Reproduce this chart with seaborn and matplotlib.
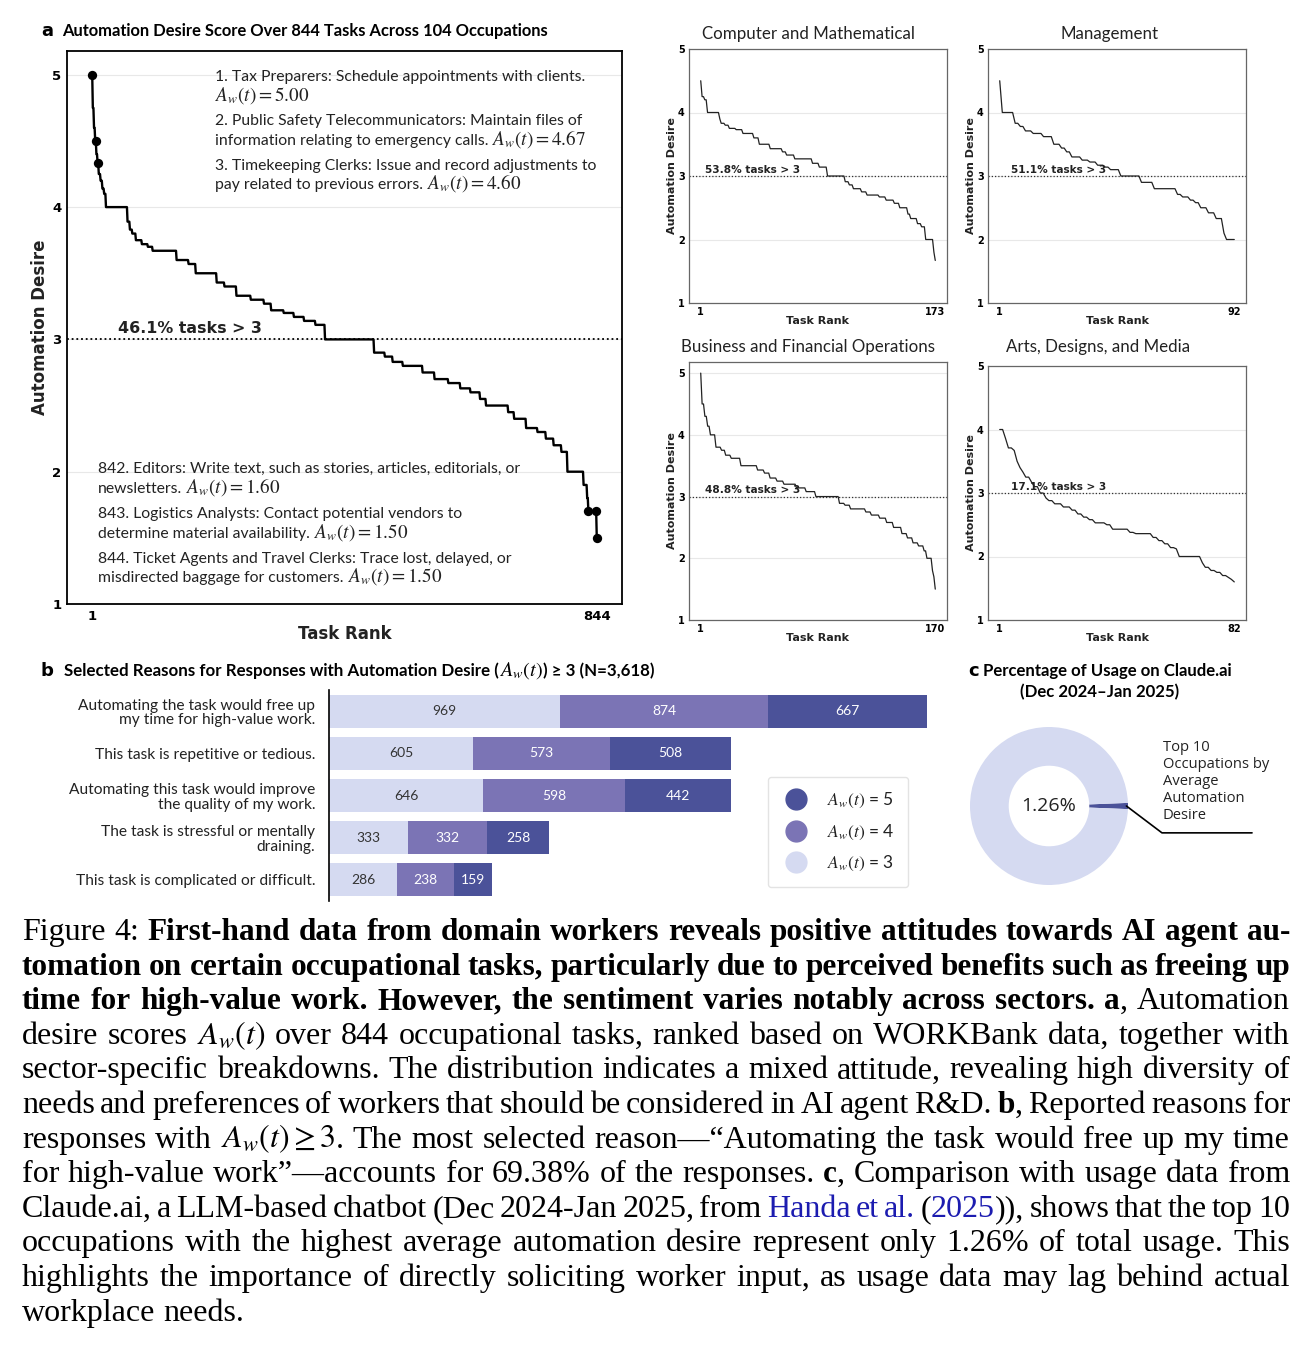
import numpy as np
import pandas as pd
import matplotlib
matplotlib.use("Agg")
import matplotlib.pyplot as plt
import matplotlib.transforms as mtrans
from matplotlib.lines import Line2D
import seaborn as sns

# ---------------- data ----------------
# sorted automation-desire curves, stored as (level, run length)
MAIN_LEVELS = [5.00, 4.75, 4.60, 4.50, 4.40, 4.33, 4.25, 4.20, 4.14, 4.10, 4.00, 3.89, 3.83, 3.80,
               3.75, 3.72, 3.70, 3.67, 3.60, 3.57, 3.50, 3.43, 3.40, 3.33, 3.30, 3.27, 3.22, 3.20,
               3.17, 3.14, 3.11, 3.00, 2.90, 2.87, 2.83, 2.80, 2.75, 2.70, 2.67, 2.63, 2.60, 2.55,
               2.50, 2.45, 2.40, 2.33, 2.30, 2.25, 2.20, 2.15, 2.00, 1.90, 1.80, 1.70, 1.50]
MAIN_COUNTS = [1, 2, 2, 2, 2, 2, 3, 3, 3, 3, 36, 4, 4, 6,
               10, 10, 8, 40, 20, 12, 35, 13, 20, 24, 22, 12, 21, 17,
               17, 19, 16, 82, 18, 13, 17, 33, 20, 23, 20, 17, 16, 10,
               37, 10, 20, 19, 14, 13, 13, 10, 27, 6, 2, 14, 1]
HIGHLIGHT_RANKS = [1, 7, 11, 830, 843, 844]

COMP_LEVELS = [4.50, 4.25, 4.20, 4.00, 3.90, 3.83, 3.80, 3.75, 3.73, 3.67, 3.60, 3.50, 3.43, 3.38,
               3.33, 3.27, 3.20, 3.14, 3.00, 2.91, 2.86, 2.80, 2.75, 2.70, 2.67, 2.62, 2.57, 2.50,
               2.40, 2.33, 2.25, 2.20, 2.00, 1.80, 1.67]
COMP_COUNTS = [1, 2, 2, 9, 1, 3, 3, 5, 5, 8, 4, 8, 9, 3, 6, 13, 5, 6, 13, 3, 3, 6, 4, 9, 5, 6, 4, 6,
               2, 5, 3, 3, 6, 1, 1]

MGMT_LEVELS = [4.50, 4.00, 3.83, 3.78, 3.71, 3.67, 3.62, 3.50, 3.44, 3.38, 3.30, 3.25, 3.22, 3.17,
               3.14, 3.10, 3.00, 2.90, 2.80, 2.71, 2.67, 2.62, 2.58, 2.50, 2.42, 2.33, 2.10, 2.00]
MGMT_COUNTS = [1, 5, 2, 2, 3, 4, 4, 3, 2, 2, 4, 3, 3, 3, 2, 4, 8, 5, 9, 2, 3, 2, 2, 3, 3, 3, 1, 4]

BUS_LEVELS = [5.00, 4.50, 4.30, 4.14, 4.00, 3.80, 3.75, 3.67, 3.62, 3.50, 3.43, 3.38, 3.30, 3.25,
              3.20, 3.14, 3.08, 3.00, 2.89, 2.86, 2.80, 2.75, 2.70, 2.65, 2.58, 2.50, 2.40, 2.33,
              2.25, 2.20, 2.12, 2.00, 1.80, 1.70, 1.50]
BUS_COUNTS = [1, 2, 2, 2, 4, 4, 3, 4, 7, 12, 5, 4, 5, 5, 9, 7, 7, 17, 4, 4, 11, 4, 6, 5, 5, 6, 4, 4,
              4, 4, 2, 4, 1, 1, 1]

ARTS_LEVELS = [4.00, 3.86, 3.71, 3.67, 3.50, 3.40, 3.33, 3.25, 3.17, 3.10, 3.00, 2.92, 2.88, 2.83,
               2.78, 2.73, 2.67, 2.62, 2.58, 2.53, 2.50, 2.43, 2.38, 2.36, 2.30, 2.25, 2.20, 2.14,
               2.12, 2.00, 1.90, 1.83, 1.78, 1.75, 1.70, 1.67, 1.64, 1.60]
ARTS_COUNTS = [2, 1, 2, 1, 1, 1, 1, 2, 1, 2, 2, 1, 2, 3, 3, 2, 2, 2, 2, 4, 2, 6, 2, 6, 2, 2, 2, 2,
               1, 8, 1, 2, 2, 2, 2, 1, 1, 1]

SECTORS = ["Computer and Mathematical", "Management",
           "Business and Financial Operations", "Arts, Designs, and Media"]

TOP_NOTES = ["1. Tax Preparers: Schedule appointments with clients.",
             "$A_w(t) = 5.00$",
             "2. Public Safety Telecommunicators: Maintain files of",
             "information relating to emergency calls. $A_w(t) = 4.67$",
             "3. Timekeeping Clerks: Issue and record adjustments to",
             "pay related to previous errors. $A_w(t) = 4.60$"]
BOTTOM_NOTES = ["842. Editors: Write text, such as stories, articles, editorials, or",
                "newsletters. $A_w(t) = 1.60$",
                "843. Logistics Analysts: Contact potential vendors to",
                "determine material availability. $A_w(t) = 1.50$",
                "844. Ticket Agents and Travel Clerks: Trace lost, delayed, or",
                "misdirected baggage for customers. $A_w(t) = 1.50$"]

REASONS = ["Automating the task would free up\nmy time for high-value work.",
           "This task is repetitive or tedious.",
           "Automating this task would improve\nthe quality of my work.",
           "The task is stressful or mentally\ndraining.",
           "This task is complicated or difficult."]
AW3 = [969, 605, 646, 333, 286]
AW4 = [874, 573, 598, 332, 238]
AW5 = [667, 508, 442, 258, 159]
LEGEND_LABELS = ["$A_w(t)$ = 5", "$A_w(t)$ = 4", "$A_w(t)$ = 3"]

USAGE_SHARE = [1.26, 98.74]
USAGE_NOTE = "Top 10\nOccupations by\nAverage\nAutomation\nDesire"

CAPTION = [
    [("Figure 4: ", "r"), ("First-hand data from domain workers reveals positive attitudes towards AI agent au-", "b")],
    [("tomation on certain occupational tasks, particularly due to perceived benefits such as freeing up", "b")],
    [("time for high-value work. However, the sentiment varies notably across sectors. ", "b"), ("a", "b"), (", Automation", "r")],
    [("desire scores ", "r"), ("$A_w(t)$", "r"), (" over 844 occupational tasks, ranked based on WORKBank data, together with", "r")],
    [("sector-specific breakdowns. The distribution indicates a mixed attitude, revealing high diversity of", "r")],
    [("needs and preferences of workers that should be considered in AI agent R&D. ", "r"), ("b", "b"), (", Reported reasons for", "r")],
    [("responses with ", "r"), ("$A_w(t)\\geq3$", "r"), (". The most selected reason\u2014\u201cAutomating the task would free up my time", "r")],
    [("for high-value work\u201d\u2014accounts for 69.38% of the responses. ", "r"), ("c", "b"), (", Comparison with usage data from", "r")],
    [("Claude.ai, a LLM-based chatbot (Dec 2024-Jan 2025, from ", "r"), ("Handa et al.", "blue"), (" (", "r"), ("2025", "blue"), (")), shows that the top 10", "r")],
    [("occupations with the highest average automation desire represent only 1.26% of total usage. This", "r")],
    [("highlights the importance of directly soliciting worker input, as usage data may lag behind actual", "r")],
    [("workplace needs.", "r")],
]

# ---------------- style ----------------
W, H = 1314, 1350
sns.set_theme(style="white")
plt.rcParams['font.family'] = ['DejaVu Sans']
plt.rcParams['mathtext.fontset'] = 'stix'

LIGHT = "#d5daf1"
MID = "#7b74b5"
DARK = "#4b5299"
TXT = "#222222"
SANS = ['Lato', 'DejaVu Sans']

fig = plt.figure(figsize=(W / 100, H / 100), dpi=100)
renderer = fig.canvas.get_renderer()


def rect(l, t, r, b):
    return [l / W, 1 - b / H, (r - l) / W, (b - t) / H]


def ftext(x, y, s, **kw):
    return fig.text(x / W, 1 - y / H, s, **kw)


def text_width(s, **kw):
    t = fig.text(0, 0, s, **kw)
    w = t.get_window_extent(renderer).width
    t.remove()
    return w


def draw_mixed(x, y, s, fs, mscale=1.2, **kw):
    """Draw text with $math$ parts enlarged; (x, y) = left/baseline in pixels."""
    sp = text_width("a a", fontsize=fs, **kw) - text_width("aa", fontsize=fs, **kw)
    kw_m = {k: v for k, v in kw.items() if k not in ("family", "fontweight")}
    for k, p in enumerate(s.split("$")):
        if not p:
            continue
        if k % 2 == 1:
            piece, f, kk = "$" + p + "$", fs * mscale, kw_m
            lead = trail = 0
        else:
            lead = len(p) - len(p.lstrip(" "))
            trail = len(p) - len(p.rstrip(" "))
            piece, f, kk = p.strip(" "), fs, kw
        x += lead * sp
        if piece:
            ftext(x, y, piece, fontsize=f, va="baseline", ha="left", **kk)
            x += text_width(piece, fontsize=f, **kk)
        x += trail * sp
    return x


def curve_panel(box, levels, counts, small, ytop, pct_x):
    ax = fig.add_axes(rect(*box))
    vals = np.repeat(levels, counts)
    n = len(vals)
    df = pd.DataFrame({"rank": np.arange(1, n + 1), "desire": vals})
    ax.set_axisbelow(True)
    ax.yaxis.grid(True, color="#e8e8e8", lw=0.8)
    ax.xaxis.grid(False)
    ax.axhline(3, color="#333333" if small else "black", ls=(0, (1, 1.6)),
               lw=0.9 if small else 1.3, zorder=1)
    sns.lineplot(data=df, x="rank", y="desire", ax=ax, color="#222222" if small else "black",
                 linewidth=0.9 if small else 1.7, errorbar=None, zorder=3)
    pad = 0.05 * (n - 1)
    ax.set_xlim(1 - pad, n + pad)
    ax.set_ylim(1, ytop)
    ax.set_xticks([1, n])
    ax.set_yticks([1, 2, 3, 4, 5])
    ax.tick_params(length=0, labelsize=7 if small else 9.5, pad=3 if small else 4,
                   colors="black")
    for t in ax.get_xticklabels() + ax.get_yticklabels():
        t.set_fontweight("bold")
    for sp in ax.spines.values():
        sp.set_visible(True)
        sp.set_color("#666666" if small else "black")
        sp.set_linewidth(0.9 if small else 1.3)
    fs = 8 if small else 12
    ax.set_xlabel("Task Rank", fontsize=fs, fontweight="bold", color=TXT)
    ax.set_ylabel("Automation Desire", fontsize=fs, fontweight="bold", color=TXT)
    if small:
        ax.xaxis.set_label_coords(0.5, -0.05)
        ax.yaxis.set_label_coords(-0.045, 0.5)
    else:
        ax.xaxis.set_label_coords(0.5, -0.038)
        ax.yaxis.set_label_coords(-0.033, 0.5)
    pct = (vals > 3).mean() * 100
    trans = mtrans.blended_transform_factory(ax.transAxes, ax.transData)
    ax.text(pct_x, 3.05, f"{pct:.1f}% tasks > 3", transform=trans, va="baseline",
            ha="left", fontsize=7.6 if small else 11.4, fontweight="bold", color=TXT, zorder=4)
    return ax, df


# ---------------- panel a ----------------
ax_main, df_main = curve_panel((67, 51, 622, 604), MAIN_LEVELS, MAIN_COUNTS, False, 5.18, 0.092)
hl = df_main[df_main["rank"].isin(HIGHLIGHT_RANKS)]
sns.scatterplot(data=hl, x="rank", y="desire", ax=ax_main, color="black", s=45,
                edgecolor="black", linewidth=0, zorder=5)

NOTE_FS = 11.3
for (y, s) in zip([76, 96, 120, 140, 165, 184], TOP_NOTES):
    draw_mixed(215, y + 5, s, NOTE_FS, 1.22, family=SANS, color=TXT)
for (y, s) in zip([468, 488, 513, 533, 558, 577], BOTTOM_NOTES):
    draw_mixed(98, y + 5, s, NOTE_FS, 1.22, family=SANS, color=TXT)

TITLE_FS = 11.9
ftext(41, 31, "a", fontsize=13, fontweight="bold", color="black", va="center")
ftext(62, 31, "Automation Desire Score Over 844 Tasks Across 104 Occupations", fontsize=TITLE_FS,
      fontweight="bold", family=SANS, color="black", va="center")

# sector panels
boxes = [(689, 49, 947, 303), (988, 49, 1246, 303), (689, 362, 947, 620), (988, 366, 1246, 620)]
data_sets = [(COMP_LEVELS, COMP_COUNTS, 5.0, 0.062), (MGMT_LEVELS, MGMT_COUNTS, 5.0, 0.09),
             (BUS_LEVELS, BUS_COUNTS, 5.18, 0.062), (ARTS_LEVELS, ARTS_COUNTS, 5.0, 0.09)]
title_pos = [(808, 34), (1110, 34), (808, 347), (1098, 347)]
for box, (lv, ct, yt, px), name, (tx, ty) in zip(boxes, data_sets, SECTORS, title_pos):
    curve_panel(box, lv, ct, True, yt, px)
    ftext(tx, ty, name, fontsize=12.2, family=SANS, color=TXT, ha="center", va="center")

# ---------------- panel b ----------------
axb = fig.add_axes(rect(329, 690, 927, 901))
dfb = pd.DataFrame({"reason": REASONS, "a3": AW3, "a4": AW4, "a5": AW5})
dfb["c34"] = dfb["a3"] + dfb["a4"]
dfb["c345"] = dfb["c34"] + dfb["a5"]
for col, c in [("c345", DARK), ("c34", MID), ("a3", LIGHT)]:
    sns.barplot(data=dfb, x=col, y="reason", orient="h", color=c, saturation=1, width=0.78,
                errorbar=None, linewidth=0, ax=axb)
for i, r in dfb.iterrows():
    axb.text(r["a3"] / 2, i, str(r["a3"]), ha="center", va="center", fontsize=10,
             family=SANS, color="#333333")
    axb.text(r["a3"] + r["a4"] / 2, i, str(r["a4"]), ha="center", va="center", fontsize=10,
             family=SANS, color="white")
    axb.text(r["c34"] + r["a5"] / 2, i, str(r["a5"]), ha="center", va="center", fontsize=10,
             family=SANS, color="white")
axb.set_xlim(0, dfb["c345"].max())
axb.set_ylim(4.5, -0.5)
axb.set_xlabel("")
axb.set_ylabel("")
axb.set_xticks([])
for k in ["top", "right", "bottom"]:
    axb.spines[k].set_visible(False)
axb.spines["left"].set_color("black")
axb.spines["left"].set_linewidth(1.2)
axb.tick_params(axis="y", length=0, pad=10)
for t in axb.get_yticklabels():
    t.set_fontfamily(SANS)
    t.set_fontsize(11.2)
    t.set_color(TXT)
    t.set_linespacing(1.05)

handles = [Line2D([], [], ls="", marker="o", markersize=15, markerfacecolor=c, markeredgecolor=c)
           for c in (DARK, MID, LIGHT)]
leg = fig.legend(handles, LEGEND_LABELS, loc="upper left", bbox_to_anchor=(768 / W, 1 - 777 / H),
                 frameon=True, fancybox=True, prop={"family": SANS, "size": 12.5},
                 labelspacing=0.72, borderpad=0.8, handletextpad=1.0, borderaxespad=0,
                 handlelength=1.6)
leg.get_frame().set_edgecolor("#dddddd")
leg.get_frame().set_linewidth(1.0)
for t in leg.get_texts():
    t.set_color(TXT)

ftext(41, 671, "b", fontsize=13, fontweight="bold", color="black", va="center")
draw_mixed(64, 676, "Selected Reasons for Responses with Automation Desire ($A_w(t)$) \u2265 3 (N=3,618)",
           TITLE_FS * 1.02, 1.2, fontweight="bold", family=SANS, color="black")

# ---------------- panel c ----------------
cx, cy, R = 1049, 806, 79
axp = fig.add_axes(rect(cx - R, cy - R, cx + R, cy + R))
axp.pie(USAGE_SHARE, colors=[DARK, LIGHT], startangle=-USAGE_SHARE[0] * 3.6 / 2,
        counterclock=True, wedgeprops=dict(width=0.49, linewidth=0))
axp.set_xlim(-1, 1)
axp.set_ylim(-1, 1)
axp.set_aspect("equal")
axp.text(0, 0, f"{USAGE_SHARE[0]:.2f}%", ha="center", va="center", fontsize=14,
         family=['Open Sans', 'DejaVu Sans'], color=TXT)
axp.plot([0.98, 1.43, 2.57], [0.0, -0.34, -0.34], color="black", lw=1.2, clip_on=False)
axp.text(1.44, 0.84, USAGE_NOTE, ha="left", va="top", fontsize=10.6, linespacing=1.2,
         family=['Open Sans', 'DejaVu Sans'], color=TXT, clip_on=False)

ftext(968, 671, "c", fontsize=13, fontweight="bold", color="black", va="center")
ftext(983, 671, "Percentage of Usage on Claude.ai", fontsize=12.1, fontweight="bold",
      family=SANS, color="black", va="center")
ftext(1100, 692, "(Dec 2024\u2013Jan 2025)", fontsize=12.1, fontweight="bold", family=SANS,
      color="black", va="center", ha="center")

# ---------------- caption (justified) ----------------
SERIF = ['Liberation Serif', 'DejaVu Serif']
STY = {"r": dict(family=SERIF, color="black"),
       "b": dict(family=SERIF, fontweight="bold", color="black"),
       "blue": dict(family=SERIF, color="#1c1cb0")}
X0, X1 = 22, 1290
BASE0, LS = 940, 34.6


def measure(s, st, fs):
    return text_width(s, fontsize=fs, **STY[st])


def split_words(segs):
    words = [[]]
    for text, st in segs:
        for j, p in enumerate(text.split(" ")):
            if j > 0:
                words.append([])
            if p:
                words[-1].append((p, st))
    return [w for w in words if w]


base = 20.0
sp0 = measure("a a", "r", base) - measure("aa", "r", base)
stats = []
for segs in CAPTION[:-1]:
    words = split_words(segs)
    wb = sum(measure(p, st, base) for w in words for p, st in w if st == "b")
    wr = sum(measure(p, st, base) for w in words for p, st in w if st != "b")
    stats.append((wb, wr, len(words) - 1))
avail = X1 - X0
# regular size: large enough to look like the reference, gaps may shrink to ~45% of a space
fs_r = min(23.0, min(base * avail / (wr + wb + sp0 * 0.45 * g) for wb, wr, g in stats[3:]))
fs_b = fs_r
for wb, wr, g in stats[:3]:
    room = avail - wr * fs_r / base - sp0 * fs_r / base * 0.9 * g
    fs_b = min(fs_b, base * room / wb)
SIZE = {"r": fs_r, "blue": fs_r, "b": fs_b}
space_w = measure("a a", "r", fs_r) - measure("aa", "r", fs_r)

for i, segs in enumerate(CAPTION):
    words = split_words(segs)
    widths = [[measure(p, st, SIZE[st]) for p, st in w] for w in words]
    total = sum(sum(ws) for ws in widths)
    if i < len(CAPTION) - 1 and len(words) > 1:
        gap = (avail - total) / (len(words) - 1)
    else:
        gap = space_w
    x = X0
    y = BASE0 + i * LS
    for w, ws in zip(words, widths):
        for (p, st), pw in zip(w, ws):
            ftext(x, y, p, fontsize=SIZE[st], va="baseline", ha="left", **STY[st])
            x += pw
        x += gap

fig.savefig("out.png", dpi=100)
